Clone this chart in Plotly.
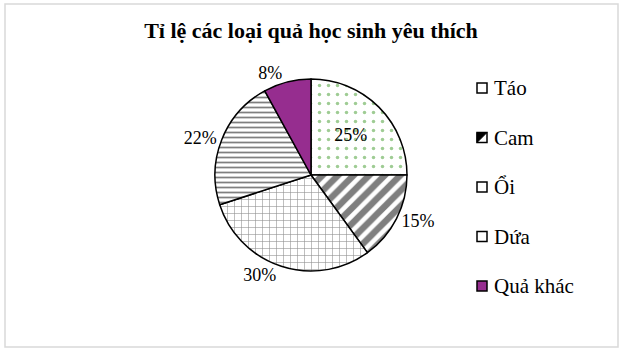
import plotly.graph_objects as go

W, H = 624, 351
categories = ["Táo", "Cam", "Ổi", "Dứa", "Quả khác"]
values = [25, 15, 30, 22, 8]
title_text = "Tỉ lệ các loại quả học sinh yêu thích"

SERIF = "Liberation Serif, Times New Roman, DejaVu Serif, serif"
fills = ["white", "white", "white", "white", "#962d8f"]
pat_shapes = [".", "/", "+", "-", ""]
pat_fg = ["#3f9a2a", "black", "#222222", "black", "#962d8f"]
pat_size = [9, 11, 7, 5, 8]
pat_solid = [0.12, 0.58, 0.16, 0.35, 0.3]
text_pos = ["inside", "outside", "outside", "outside", "outside"]

cx, cy, r = 311, 175, 96

fig = go.Figure()
fig.add_trace(go.Pie(
    labels=categories, values=values, sort=False, direction="clockwise", rotation=0,
    marker=dict(colors=fills, line=dict(color="black", width=1.5),
                pattern=dict(shape=pat_shapes, fgcolor=pat_fg, bgcolor=fills,
                             size=pat_size, solidity=pat_solid, fillmode="overlay")),
    texttemplate="%{percent:.0%}", textposition=text_pos,
    textfont=dict(family=SERIF, size=18, color="black"),
    insidetextorientation="horizontal",
    domain=dict(x=[(cx - r) / W, (cx + r) / W], y=[(H - cy - r) / H, (H - cy + r) / H]),
    showlegend=False, hoverinfo="label+percent",
))

# manual legend
leg_x, leg_y0, leg_dy, box = 477, 88, 49.5, 10
shapes = [dict(type="rect", xref="paper", yref="paper", x0=5 / W, x1=618 / W,
               y0=1 - 347 / H, y1=1 - 4 / H, line=dict(color="#d9d9d9", width=1.5))]
annotations = []
for i, cat in enumerate(categories):
    yc = leg_y0 + i * leg_dy
    shapes.append(dict(type="rect", xref="paper", yref="paper",
                       x0=leg_x / W, x1=(leg_x + box) / W,
                       y0=1 - (yc + box / 2) / H, y1=1 - (yc - box / 2) / H,
                       fillcolor=fills[i], line=dict(color="black", width=1.5)))
    if i == 1:
        shapes.append(dict(type="path", xref="paper", yref="paper",
                           path=f"M {leg_x / W} {1 - (yc + box / 2) / H} L {(leg_x + box) / W} {1 - (yc - box / 2) / H} L {leg_x / W} {1 - (yc - box / 2) / H} Z",
                           fillcolor="black", line=dict(color="black", width=1)))
    annotations.append(dict(x=(leg_x + box + 5) / W, y=1 - yc / H, xref="paper", yref="paper",
                            text=cat, showarrow=False, xanchor="left", yanchor="middle",
                            font=dict(family=SERIF, size=21, color="black")))

fig.update_layout(
    width=W, height=H, margin=dict(l=0, r=0, t=0, b=0),
    paper_bgcolor="white", plot_bgcolor="white",
    font=dict(family=SERIF, color="black"),
    title=dict(text=f"<b>{title_text}</b>", x=311 / W, xanchor="center",
               y=1 - 30 / H, yanchor="middle",
               font=dict(family=SERIF, size=22, color="black")),
    shapes=shapes, annotations=annotations,
)
fig.write_html("out.html")
